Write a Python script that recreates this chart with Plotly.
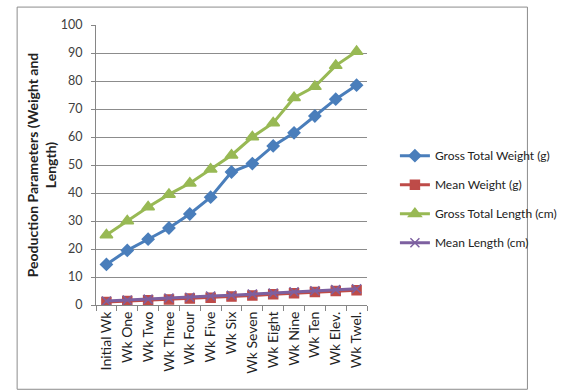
import plotly.graph_objects as go

# Weekly production parameters
weeks = ["Initial Wk", "Wk One", "Wk Two", "Wk Three", "Wk Four", "Wk Five", "Wk Six",
         "Wk Seven", "Wk Eight", "Wk Nine", "Wk Ten", "Wk Elev.", "Wk Twel."]
gross_total_weight = [14.5, 19.5, 23.5, 27.5, 32.5, 38.5, 47.5, 50.5, 56.8, 61.5, 67.5, 73.5, 78.5]
mean_weight = [1.1, 1.4, 1.7, 2.0, 2.3, 2.6, 3.0, 3.4, 3.8, 4.2, 4.6, 5.0, 5.3]
gross_total_length = [25.0, 30.0, 35.0, 39.5, 43.5, 48.5, 53.5, 60.0, 65.0, 74.0, 78.0, 85.5, 90.5]
mean_length = [1.4, 1.8, 2.1, 2.5, 2.8, 3.2, 3.5, 3.9, 4.3, 4.7, 5.1, 5.5, 5.8]

y_ticks = list(range(0, 101, 10))

FONT = "Lato"

series = [
    ("Gross Total Weight (g)", gross_total_weight, "#4A7EBB", "diamond", 9),
    ("Mean Weight (g)", mean_weight, "#BE4B48", "square", 9),
    ("Gross Total Length (cm)", gross_total_length, "#98B954", "triangle-up", 11),
    ("Mean Length (cm)", mean_length, "#7D60A0", "x-thin-open", 9),
]

fig = go.Figure()
for i, (name, vals, color, symbol, size) in enumerate(series):
    fig.add_trace(go.Scatter(
        x=weeks, y=vals, name=name, mode="lines+markers",
        line=dict(color=color, width=3),
        marker=dict(symbol=symbol, size=size, color=color,
                    line=dict(color=color, width=1.5)),
        legendgroup=f"g{i}",
    ))

fig.update_layout(
    width=574, height=392,
    margin=dict(l=96, r=179, t=25, b=86.5),
    paper_bgcolor="white", plot_bgcolor="white",
    font=dict(family=FONT, size=12, color="#333333"),
    showlegend=True,
    legend=dict(x=1.103, y=0.585, xanchor="left", yanchor="top",
                traceorder="grouped", tracegroupgap=10,
                font=dict(family=FONT, size=12, color="#222222"),
                bgcolor="rgba(0,0,0,0)"),
    xaxis=dict(
        type="category", range=[-0.5, 12.5],
        tickangle=-90, ticks="outside", tickson="boundaries", ticklen=5,
        tickcolor="#868686", showline=True, linecolor="#868686", linewidth=1,
        showgrid=False, tickfont=dict(size=14, color="#222222"),
    ),
    yaxis=dict(
        range=[0, 100], tickvals=y_ticks, ticks="outside", ticklen=4,
        ticklabelstandoff=6,
        tickcolor="#868686", showline=True, linecolor="#868686", linewidth=1,
        showgrid=True, gridcolor="#8C8C8C", gridwidth=1, zeroline=False,
        tickfont=dict(size=12.5, color="#404040"),
        title=dict(text="<b>Peoduction Parameters (Weight and<br>Length)</b>",
                   font=dict(family=FONT, size=14, color="#222222"), standoff=0),
    ),
    shapes=[dict(type="rect", xref="paper", yref="paper",
                 x0=-0.291, x1=1.592, y0=-0.301, y1=1.064,
                 line=dict(color="#8C8C8C", width=1), fillcolor="rgba(0,0,0,0)",
                 layer="below")],
)

fig.write_html("out.html")
